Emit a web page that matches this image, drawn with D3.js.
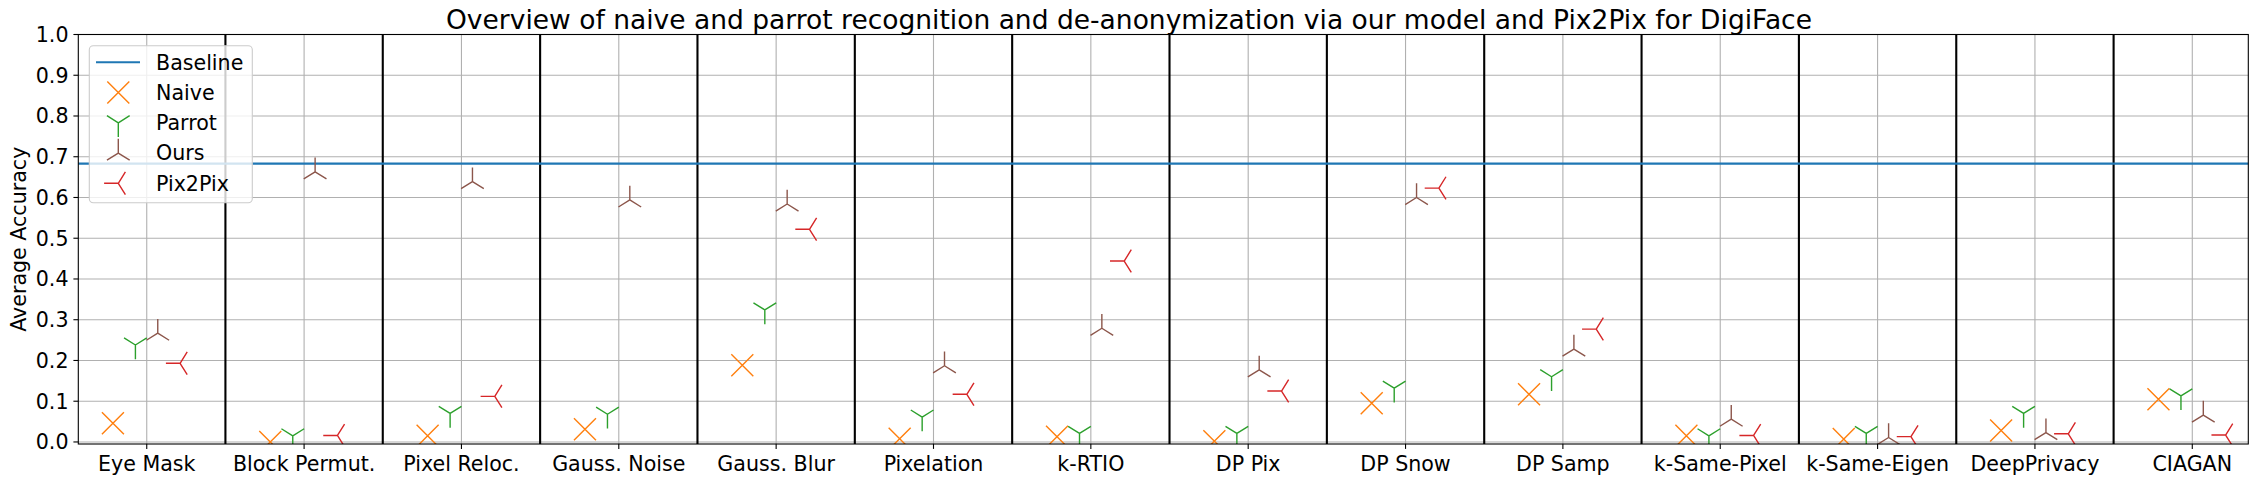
<!DOCTYPE html>
<html>
<head>
<meta charset="utf-8">
<script src="https://cdn.jsdelivr.net/npm/d3@7"></script>
<style>
  html, body { margin: 0; padding: 0; background: #fff; }
  svg { display: block; font-family: "DejaVu Sans", sans-serif; }
</style>
</head>
<body>
<svg id="chart" width="2258" height="484"></svg>
<script>
// ---- data ----
const categories = ["Eye Mask", "Block Permut.", "Pixel Reloc.", "Gauss. Noise", "Gauss. Blur", "Pixelation", "k-RTIO", "DP Pix", "DP Snow", "DP Samp", "k-Same-Pixel", "k-Same-Eigen", "DeepPrivacy", "CIAGAN"];
const naive   = [0.046, 0.000, 0.015, 0.031, 0.188, 0.008, 0.013, 0.002, 0.095, 0.117, 0.015, 0.007, 0.028, 0.105];
const parrot  = [0.238, 0.015, 0.070, 0.068, 0.324, 0.061, 0.021, 0.021, 0.132, 0.160, 0.015, 0.021, 0.070, 0.113];
const ours    = [0.267, 0.663, 0.639, 0.594, 0.584, 0.187, 0.279, 0.177, 0.600, 0.228, 0.056, 0.011, 0.023, 0.066];
const pix2pix = [0.193, 0.016, 0.112, null, 0.522, 0.117, 0.444, 0.125, 0.623, 0.277, 0.016, 0.013, 0.020, 0.017];
const baseline = 0.683;
const yTicks = [0.0, 0.1, 0.2, 0.3, 0.4, 0.5, 0.6, 0.7, 0.8, 0.9, 1.0];
const titleText = "Overview of naive and parrot recognition and de-anonymization via our model and Pix2Pix for DigiFace";
const yLabel = "Average Accuracy";

// ---- layout ----
const W = 2258, H = 484;
const pL = 78.3, pR = 2248.3, pT = 34.5, pB = 444;
const svg = d3.select("#chart");

const x = d3.scaleLinear().domain([-0.435, 13.356]).range([pL, pR]);
const y = d3.scaleLinear().domain([-0.005, 1.0]).range([pB, pT]);

const series = [
  { name: "Naive",   values: naive,   color: "#ff7f0e", marker: "x",        offset: -0.215 },
  { name: "Parrot",  values: parrot,  color: "#2ca02c", marker: "tri_down", offset: -0.072 },
  { name: "Ours",    values: ours,    color: "#8c564b", marker: "tri_up",   offset: 0.070 },
  { name: "Pix2Pix", values: pix2pix, color: "#d62728", marker: "tri_left", offset: 0.212 }
];

function markerPath(type, cx, cy) {
  const r = 14.2, h = 11;
  const p = d3.path();
  const seg = (dx, dy) => { p.moveTo(cx, cy); p.lineTo(cx + dx, cy + dy); };
  if (type === "x") {
    p.moveTo(cx - h, cy - h); p.lineTo(cx + h, cy + h);
    p.moveTo(cx - h, cy + h); p.lineTo(cx + h, cy - h);
  } else if (type === "tri_down") {
    seg(0, r); seg(0.8 * r, -0.5 * r); seg(-0.8 * r, -0.5 * r);
  } else if (type === "tri_up") {
    seg(0, -r); seg(0.8 * r, 0.5 * r); seg(-0.8 * r, 0.5 * r);
  } else if (type === "tri_left") {
    seg(-r, 0); seg(0.5 * r, 0.8 * r); seg(0.5 * r, -0.8 * r);
  }
  return p.toString();
}

svg.append("defs").append("clipPath").attr("id", "plotclip")
  .append("rect").attr("x", pL).attr("y", pT).attr("width", pR - pL).attr("height", pB - pT);

// grid
const grid = svg.append("g");
grid.selectAll("line.gy").data(yTicks).join("line")
  .attr("x1", pL).attr("x2", pR)
  .attr("y1", d => y(d)).attr("y2", d => y(d))
  .attr("stroke", "#b0b0b0").attr("stroke-width", 1.1);
grid.selectAll("line.gx").data(categories).join("line")
  .attr("x1", (d, i) => x(i)).attr("x2", (d, i) => x(i))
  .attr("y1", pT).attr("y2", pB)
  .attr("stroke", "#b0b0b0").attr("stroke-width", 1.1);

// separators
const seps = d3.range(categories.length - 1).map(i => i + 0.5);
svg.append("g").selectAll("line").data(seps).join("line")
  .attr("x1", d => x(d)).attr("x2", d => x(d))
  .attr("y1", pT).attr("y2", pB)
  .attr("stroke", "#000").attr("stroke-width", 2.1);

// baseline
svg.append("line")
  .attr("x1", pL).attr("x2", pR)
  .attr("y1", y(baseline)).attr("y2", y(baseline))
  .attr("stroke", "#1f77b4").attr("stroke-width", 2.1);

// markers
const mk = svg.append("g").attr("clip-path", "url(#plotclip)");
series.forEach(s => {
  mk.append("g").selectAll("path")
    .data(s.values.map((v, i) => ({ v, i })).filter(d => d.v !== null))
    .join("path")
    .attr("d", d => markerPath(s.marker, x(d.i + s.offset), y(d.v)))
    .attr("fill", "none").attr("stroke", s.color).attr("stroke-width", 1.4);
});

// spines
svg.append("rect").attr("x", pL).attr("y", pT)
  .attr("width", pR - pL).attr("height", pB - pT)
  .attr("fill", "none").attr("stroke", "#000").attr("stroke-width", 1.1);

// y axis
const yAxis = svg.append("g");
yTicks.forEach(t => {
  yAxis.append("line").attr("x1", pL - 4.9).attr("x2", pL)
    .attr("y1", y(t)).attr("y2", y(t)).attr("stroke", "#000").attr("stroke-width", 1.1);
  yAxis.append("text").attr("x", pL - 9.8).attr("y", y(t) + 7.4)
    .attr("text-anchor", "end").attr("font-size", 20.6).attr("fill", "#000")
    .text(d3.format(".1f")(t));
});

// x axis
const xAxis = svg.append("g");
categories.forEach((c, i) => {
  xAxis.append("line").attr("x1", x(i)).attr("x2", x(i))
    .attr("y1", pB).attr("y2", pB + 4.9).attr("stroke", "#000").attr("stroke-width", 1.1);
  xAxis.append("text").attr("x", x(i)).attr("y", 470.7)
    .attr("text-anchor", "middle").attr("font-size", 20.6).attr("fill", "#000")
    .text(c);
});

// y label
svg.append("text").attr("transform", `translate(26,${(pT + pB) / 2}) rotate(-90)`)
  .attr("text-anchor", "middle").attr("font-size", 20.6).attr("fill", "#000").text(yLabel);

// title
svg.append("text").attr("x", W / 2).attr("y", 29.3)
  .attr("text-anchor", "middle").attr("font-size", 26.5).attr("fill", "#000").text(titleText);

// legend
const lg = svg.append("g");
lg.append("rect").attr("x", 89.3).attr("y", 45.7).attr("width", 163).attr("height", 157)
  .attr("rx", 4).attr("fill", "#fff").attr("fill-opacity", 0.8)
  .attr("stroke", "#cccccc").attr("stroke-width", 1.1);
const rowY = i => 62.3 + i * 30.25;
lg.append("line").attr("x1", 96).attr("x2", 140).attr("y1", rowY(0)).attr("y2", rowY(0))
  .attr("stroke", "#1f77b4").attr("stroke-width", 2.1);
lg.append("text").attr("x", 156).attr("y", rowY(0) + 7.3).attr("font-size", 20.6).text("Baseline");
series.forEach((s, k) => {
  lg.append("path").attr("d", markerPath(s.marker, 118.3, rowY(k + 1)))
    .attr("fill", "none").attr("stroke", s.color).attr("stroke-width", 1.4);
  lg.append("text").attr("x", 156).attr("y", rowY(k + 1) + 7.3).attr("font-size", 20.6).text(s.name);
});
</script>
</body>
</html>
